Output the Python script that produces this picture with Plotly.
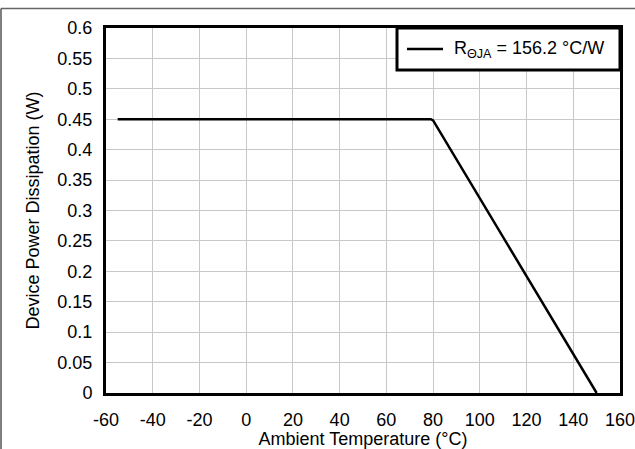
import plotly.graph_objects as go

# Data
temps = [-55, 79, 80, 150]
power = [0.45, 0.45, 0.448, 0.0]
series_name = "R<sub>ΘJA</sub> = 156.2 °C/W"
x_ticks = [-60, -40, -20, 0, 20, 40, 60, 80, 100, 120, 140, 160]
x_tick_labels = ["-60", "-40", "-20", "0", "20", "40", "60", "80", "100", "120", "140", "160"]
y_ticks = [0, 0.05, 0.1, 0.15, 0.2, 0.25, 0.3, 0.35, 0.4, 0.45, 0.5, 0.55, 0.6]
y_tick_labels = ["0", "0.05", "0.1", "0.15", "0.2", "0.25", "0.3", "0.35", "0.4", "0.45", "0.5", "0.55", "0.6"]

W, H = 635, 449
L, R, T, B = 106, 15, 28, 56
pw, ph = W - L - R, H - T - B

font = "Liberation Sans, Arial, sans-serif"
FS = 18

fig = go.Figure()
fig.add_trace(go.Scatter(x=temps, y=power, mode="lines", name=series_name,
                         line=dict(color="black", width=2.5), showlegend=False))

fig.update_layout(
    width=W, height=H,
    margin=dict(l=L, r=R, t=T, b=B, autoexpand=False),
    paper_bgcolor="white", plot_bgcolor="white",
    font=dict(family=font, size=FS, color="black"),
    showlegend=False,
    xaxis=dict(range=[-60, 160], tickvals=x_ticks, ticktext=x_tick_labels, ticks="",
               ticklabelstandoff=8, ticklabeloverflow="allow", automargin=False,
               showgrid=True,
               gridcolor="#c8c8c8", gridwidth=1, showline=True, linecolor="black",
               linewidth=3, mirror=True, zeroline=False,
               title=dict(text="Ambient Temperature (°C)", standoff=0, font=dict(size=FS))),
    yaxis=dict(range=[0, 0.6], tickvals=y_ticks, ticktext=y_tick_labels, ticks="",
               ticklabelstandoff=7, ticklabeloverflow="allow", automargin=False,
               showgrid=True, gridcolor="#c8c8c8", gridwidth=1, showline=True,
               linecolor="black", linewidth=3, mirror=True, zeroline=False,
               title=dict(text="Device Power Dissipation (W)", standoff=14, font=dict(size=FS))),
)

# manual legend box sharing the plot's top-right corner
lx0 = (397 - L) / pw
ly0 = 1 - (70 - T) / ph
fig.add_shape(type="rect", xref="paper", yref="paper", x0=lx0, x1=1, y0=ly0, y1=1,
              line=dict(color="black", width=3), fillcolor="white", layer="above")
ly_mid = 1 - (49 - T) / ph
fig.add_shape(type="line", xref="paper", yref="paper", x0=(407 - L) / pw, x1=(443 - L) / pw,
              y0=ly_mid, y1=ly_mid, line=dict(color="black", width=2.5), layer="above")
fig.add_annotation(xref="paper", yref="paper", x=(452 - L) / pw, y=ly_mid,
                   xanchor="left", yanchor="middle", text=series_name, showarrow=False,
                   font=dict(size=FS, family=font, color="black"))

# outer frame lines (top and left)
top_y = 1 + (T - 8.5) / ph
left_x = (1 - L) / pw
fig.add_shape(type="line", xref="paper", yref="paper", x0=left_x, x1=1 + R / pw,
              y0=top_y, y1=top_y, line=dict(color="#666666", width=1.5))
fig.add_shape(type="line", xref="paper", yref="paper", x0=left_x, x1=left_x,
              y0=top_y, y1=-B / ph, line=dict(color="#555555", width=1.5))

fig.write_html("out.html")
